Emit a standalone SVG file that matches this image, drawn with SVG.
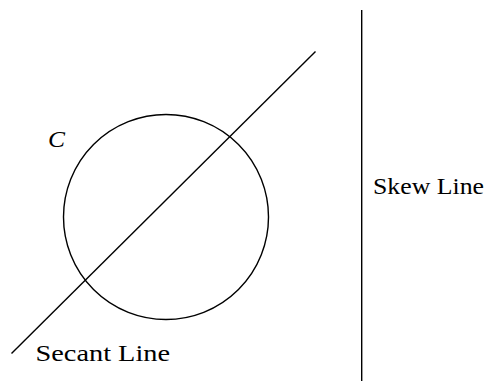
<svg xmlns="http://www.w3.org/2000/svg" width="493" height="381" viewBox="0 0 493 381">
<style>
.ln{stroke:#000;stroke-width:1.4;fill:none}
.t{font-family:'Liberation Serif','DejaVu Serif',serif;font-size:23px;fill:#000}
</style>
<rect width="493" height="381" fill="#fff"/>
<g id="circle">
<circle class="ln" cx="166" cy="217" r="102.5"/>
<text class="t" x="48" y="146.5" font-style="italic" textLength="17" lengthAdjust="spacingAndGlyphs">C</text>
</g>
<g id="connectors">
<line id="secant" class="ln" x1="11.5" y1="353.5" x2="315.5" y2="51.5"/>
<line id="skew" class="ln" x1="361.7" y1="10" x2="361.7" y2="381"/>
</g>
<g id="labels">
<text class="t" x="373" y="194.3" textLength="111" lengthAdjust="spacingAndGlyphs">Skew Line</text>
<text class="t" x="35.5" y="360.7" textLength="134.5" lengthAdjust="spacingAndGlyphs">Secant Line</text>
</g>
</svg>
